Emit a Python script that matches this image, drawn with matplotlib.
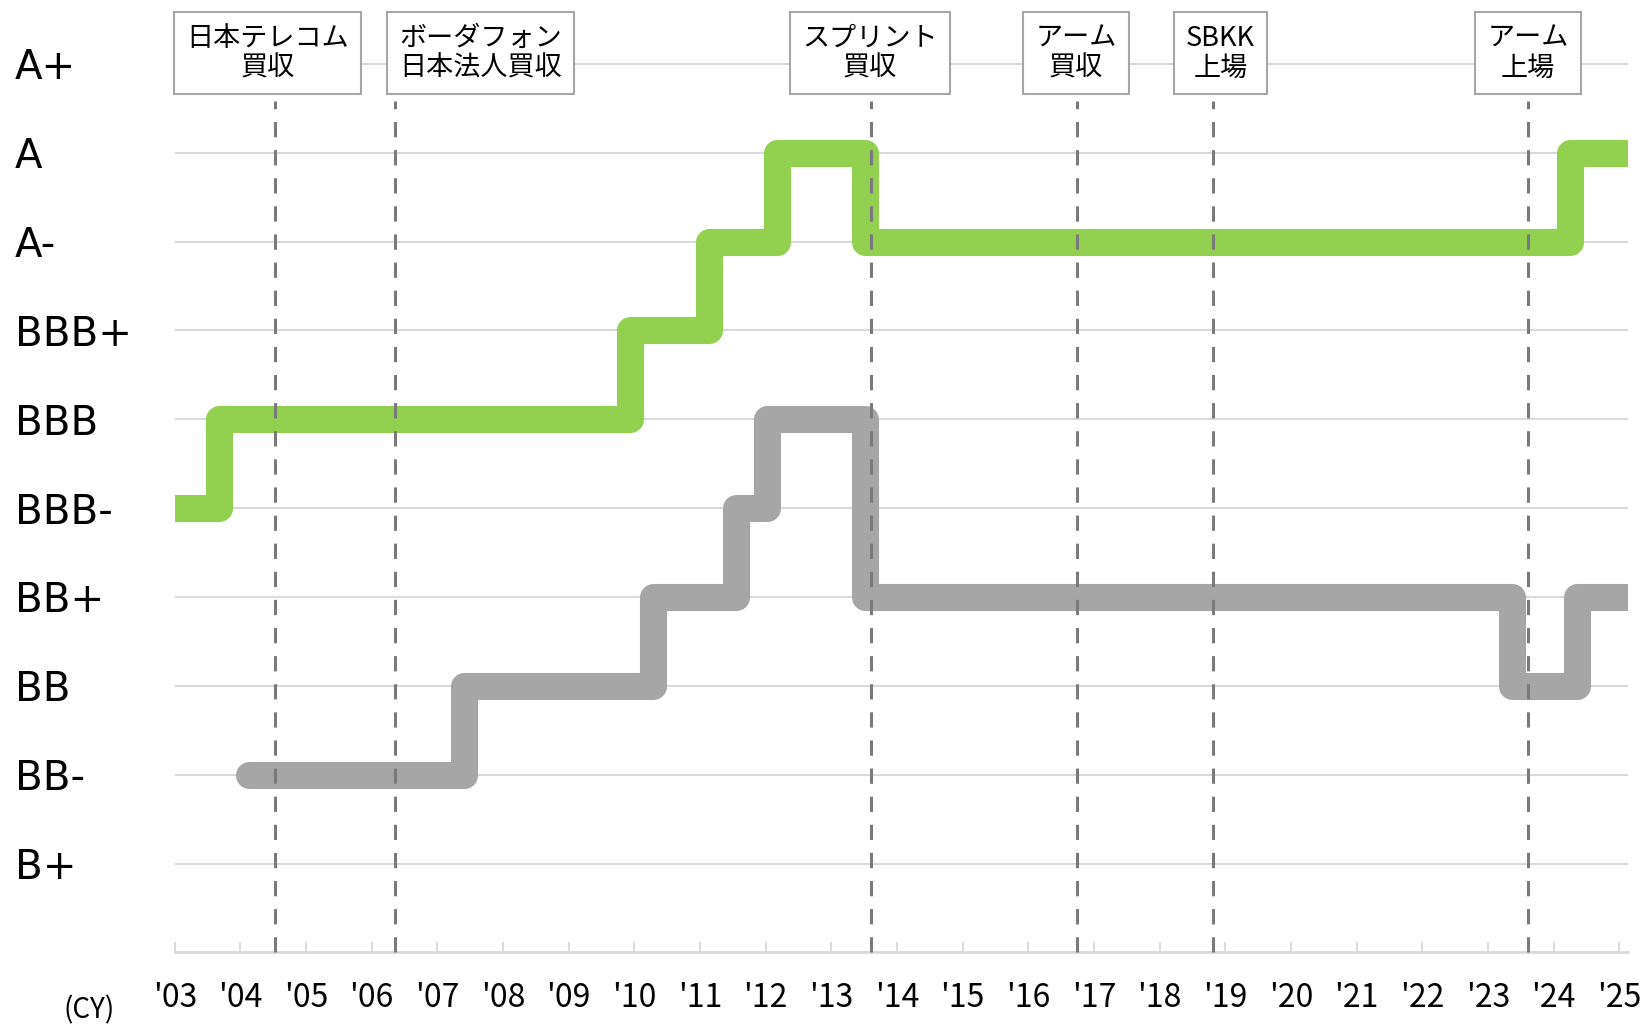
import matplotlib.pyplot as plt

plt.rcParams['font.family'] = ['Noto Sans CJK JP', 'DejaVu Sans']

# rating scale, low to high (B sits on the x axis)
rating_scale = ['B', 'B+', 'BB-', 'BB', 'BB+', 'BBB-', 'BBB', 'BBB+', 'A-', 'A', 'A+']

# green line: year of each change and the rating from then on
green_years = [2003.0, 2003.67, 2009.93, 2011.13, 2012.18, 2013.51, 2024.25, 2025.13]
green_ratings = ['BBB-', 'BBB', 'BBB+', 'A-', 'A', 'A-', 'A', 'A']

# gray line
gray_years = [2004.13, 2007.40, 2010.29, 2011.55, 2012.02, 2013.51, 2023.37, 2024.36, 2025.13]
gray_ratings = ['BB-', 'BB', 'BB+', 'BBB-', 'BBB', 'BB+', 'BB', 'BB+', 'BB+']

# events
event_years = [2004.53, 2006.35, 2013.60, 2016.74, 2018.82, 2023.61]
event_labels = ['日本テレコム\n買収', 'ボーダフォン\n日本法人買収', 'スプリント\n買収',
                'アーム\n買収', 'SBKK\n上場', 'アーム\n上場']
label_x = [2004.41, 2007.66, 2013.59, 2016.73, 2018.93, 2023.61]

year_ticks = list(range(2003, 2026))
year_labels = ["'%02d" % (y % 100) for y in year_ticks]


def level(r):
    return rating_scale.index(r)


fig = plt.figure(figsize=(16.41, 10.24), dpi=100)
ax = fig.add_axes([0.1065, 0.0699, 0.8854, 0.9285])

ax.step(green_years, [level(r) for r in green_ratings], where='post',
        color='#92D050', lw=19.5, solid_joinstyle='round', solid_capstyle='round', zorder=3)
ax.step(gray_years, [level(r) for r in gray_ratings], where='post',
        color='#A6A6A6', lw=19.5, solid_joinstyle='round', solid_capstyle='round', zorder=3)

for x in event_years:
    ax.plot([x, x], [0, 9.58], color='#7A7A7A', lw=2.2,
            linestyle=(0, (5.0, 4.2)), zorder=4, clip_on=False)

for x, t in zip(label_x, event_labels):
    ax.text(x, 10.12, t, ha='center', va='center', fontsize=19.5, linespacing=1.15,
            zorder=5, clip_on=False,
            bbox=dict(boxstyle='square,pad=0.45', fc='white', ec='#A6A6A6', lw=1.5))

ax.set_xlim(2003, 2025.13)
ax.set_ylim(0, 10.7)

ax.set_xticks(year_ticks)
ax.set_xticklabels(year_labels, fontsize=23)
ax.set_yticks(range(1, 11))
ax.set_yticklabels(rating_scale[1:], fontsize=29, family='DejaVu Sans', ha='left')
ax.tick_params(axis='y', length=0, pad=115)
ax.tick_params(axis='x', direction='in', length=7.5, width=1.3, color='#D9D9D9', pad=21)
ax.yaxis.grid(True, color='#D9D9D9', lw=1.5)
ax.set_axisbelow(True)

for s in ['top', 'right', 'left']:
    ax.spines[s].set_visible(False)
ax.spines['bottom'].set_color('#D9D9D9')
ax.spines['bottom'].set_linewidth(2)

fig.text(64 / 1641, 1 - 1010 / 1024, '(CY)', fontsize=20, ha='left', va='center')

plt.savefig('out.png', dpi=100)
